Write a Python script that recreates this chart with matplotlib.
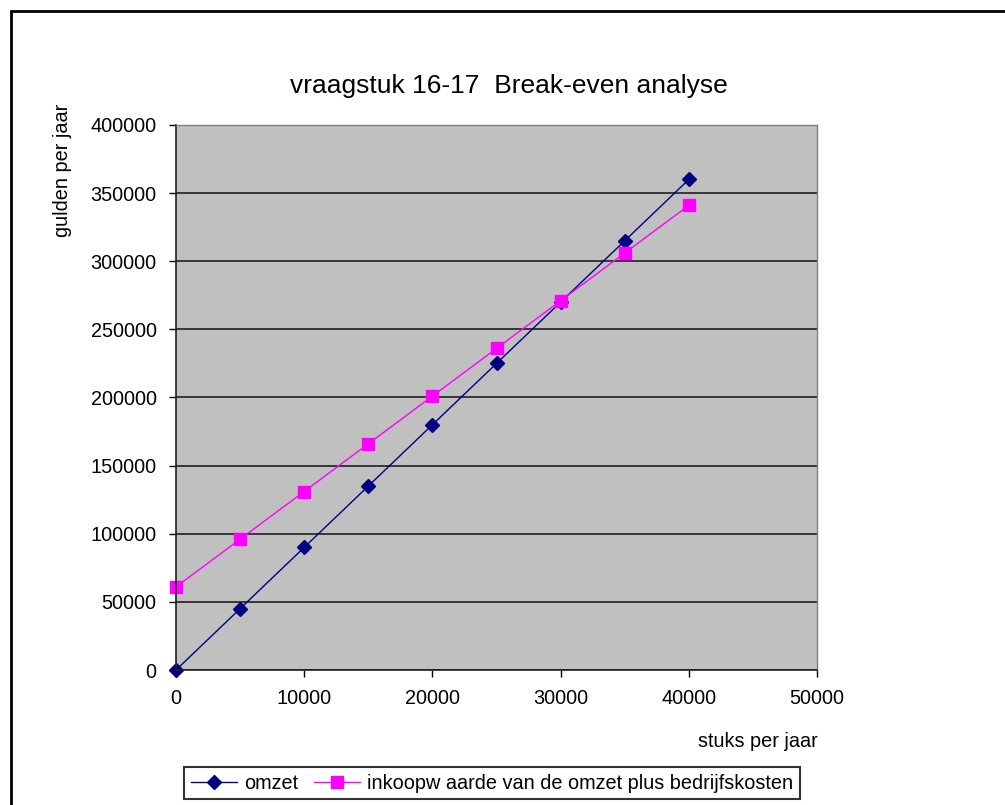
import matplotlib
matplotlib.use("Agg")
import matplotlib.pyplot as plt
from matplotlib.patches import Rectangle

plt.rcParams['font.family'] = ['Liberation Sans', 'DejaVu Sans']

x_values = [0, 5000, 10000, 15000, 20000, 25000, 30000, 35000, 40000]
omzet = [0, 45000, 90000, 135000, 180000, 225000, 270000, 315000, 360000]
inkoop = [61000, 96000, 131000, 166000, 201000, 236000, 271000, 306000, 341000]
x_ticks = [0, 10000, 20000, 30000, 40000, 50000]
y_ticks = [0, 50000, 100000, 150000, 200000, 250000, 300000, 350000, 400000]

W, H = 1005, 805
fig = plt.figure(figsize=(W / 100, H / 100), dpi=100)
fig.patch.set_facecolor('white')

# outer frame (cut at right/bottom)
fig.add_artist(Rectangle((11 / W, -0.05), 1.2, 1 - 11 / H + 0.05, transform=fig.transFigure,
                         fill=False, edgecolor='black', linewidth=2))

ax = fig.add_axes([176 / W, (H - 670) / H, 641 / W, 545 / H])
ax.set_facecolor('#C0C0C0')
ax.set_xlim(0, 50000)
ax.set_ylim(0, 400000)
ax.set_xticks(x_ticks)
ax.set_yticks(y_ticks)
ax.set_xticklabels([str(v) for v in x_ticks])
ax.set_yticklabels([str(v) for v in y_ticks])
ax.tick_params(axis='both', labelsize=14.3, direction='out', length=5, width=1, color='black')
ax.tick_params(axis='x', pad=9)
ax.tick_params(axis='y', pad=9)
ax.yaxis.grid(True, color='#202020', linewidth=1.2)
ax.set_axisbelow(True)
for side in ['top', 'right']:
    ax.spines[side].set_color('#808080')
    ax.spines[side].set_linewidth(1)
for side in ['left', 'bottom']:
    ax.spines[side].set_color('#202020')
    ax.spines[side].set_linewidth(1.2)

l1, = ax.plot(x_values, omzet, color='#000080', linewidth=1, marker='D', markersize=7.5,
              markerfacecolor='#000080', markeredgecolor='#000080', label='omzet', clip_on=False)
l2, = ax.plot(x_values, inkoop, color='#FF00FF', linewidth=1, marker='s', markersize=8,
              markerfacecolor='#FF00FF', markeredgecolor='#FF00FF',
              label='inkoopw aarde van de omzet plus bedrijfskosten', clip_on=False)

fig.text(509 / W, 1 - 86 / H, 'vraagstuk 16-17  Break-even analyse', ha='center', va='center', fontsize=19)
fig.text(818 / W, 1 - 741 / H, 'stuks per jaar', ha='right', va='center', fontsize=14.3)
fig.text(62 / W, 1 - 104 / H, 'gulden per jaar', ha='center', va='top', rotation=90, fontsize=14.3)

leg = fig.legend(handles=[l1, l2], loc='center', bbox_to_anchor=(492 / W, 1 - 783 / H), ncol=2,
                 fontsize=14.3, frameon=True, fancybox=False, edgecolor='black', handlelength=2.3,
                 columnspacing=0.8, handletextpad=0.35, borderpad=0.35, borderaxespad=0)
leg.get_frame().set_linewidth(1.5)

fig.savefig('out.png', dpi=100, facecolor='white')
